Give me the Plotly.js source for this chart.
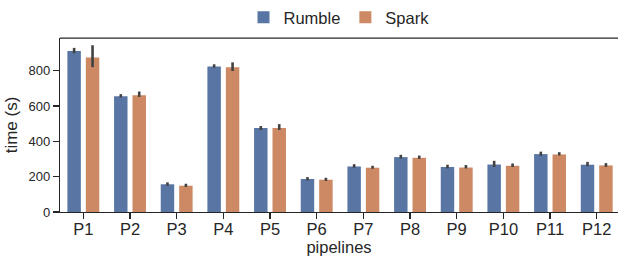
<!DOCTYPE html>
<html>
<head>
<meta charset="utf-8">
<script src="https://cdn.plot.ly/plotly-3.0.1.min.js"></script>
<style>html,body{margin:0;padding:0;overflow:hidden;background:#fff}</style>
</head>
<body>
<div id="chart" style="width:618px;height:259px"></div>
<script>
const categories = ["P1","P2","P3","P4","P5","P6","P7","P8","P9","P10","P11","P12"];
const rumbleMean = [912, 656, 157, 824, 476, 187, 258, 311, 255, 269, 328, 268];
const rumbleLow  = [900, 649, 149, 818, 465, 179, 251, 303, 247, 255, 318, 260];
const rumbleHigh = [930, 668, 168, 837, 487, 198, 271, 324, 268, 290, 342, 284];
const sparkMean  = [876, 662, 149, 820, 476, 183, 251, 307, 252, 262, 326, 264];
const sparkLow   = [821, 652, 142, 799, 465, 176, 245, 301, 247, 255, 320, 256];
const sparkHigh  = [945, 683, 160, 848, 498, 194, 262, 320, 266, 275, 339, 277];

function errObj(mean, low, high) {
  return {
    type: 'data', symmetric: false,
    array: high.map((h, i) => h - mean[i]),
    arrayminus: low.map((l, i) => mean[i] - l),
    color: '#424242', thickness: 2.6, width: 0
  };
}

const traces = [
  {type: 'bar', name: 'Rumble', x: categories, y: rumbleMean,
   marker: {color: '#5875A4'}, error_y: errObj(rumbleMean, rumbleLow, rumbleHigh)},
  {type: 'bar', name: 'Spark', x: categories, y: sparkMean,
   marker: {color: '#CC8963'}, error_y: errObj(sparkMean, sparkLow, sparkHigh)}
];

const axisColor = '#262626';
const layout = {
  width: 618, height: 259,
  margin: {l: 60, r: 0, t: 37, b: 47},
  paper_bgcolor: '#fff', plot_bgcolor: '#fff',
  font: {family: 'Liberation Sans, Arial, sans-serif', color: axisColor},
  barmode: 'group', bargap: 0.21, bargroupgap: 0.27,
  showlegend: true,
  legend: {orientation: 'h', x: 0.5, xanchor: 'center', y: 1.115, yanchor: 'middle',
           font: {size: 16.5, color: axisColor}},
  xaxis: {
    type: 'category', range: [-0.5, 11.456],
    showline: true, linecolor: axisColor, linewidth: 1.25,
    ticks: 'outside', ticklen: 6, tickwidth: 1.25, tickcolor: axisColor,
    tickfont: {size: 16.5}, ticklabelstandoff: -4,
    showgrid: false, zeroline: false, automargin: false,
    title: {text: 'pipelines', font: {size: 16.5}, standoff: 3}
  },
  yaxis: {
    range: [0, 986], tickvals: [0, 200, 400, 600, 800],
    showline: true, linecolor: axisColor, linewidth: 1.25,
    ticks: 'outside', ticklen: 6, tickwidth: 1.25, tickcolor: axisColor,
    tickfont: {size: 13}, showgrid: false, zeroline: false,
    title: {text: 'time (s)', font: {size: 17}, standoff: 6}
  },
  shapes: [{type: 'line', xref: 'paper', yref: 'paper', x0: 0, x1: 1, y0: 1, y1: 1,
            line: {color: axisColor, width: 1.25}}]
};

Plotly.newPlot('chart', traces, layout, {displayModeBar: false, staticPlot: true});
</script>
</body>
</html>
